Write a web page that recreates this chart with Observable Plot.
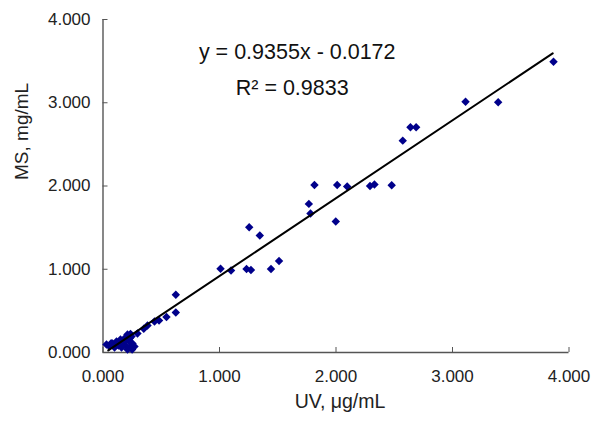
<!DOCTYPE html>
<html>
<head>
<meta charset="utf-8">
<script src="https://cdn.jsdelivr.net/npm/d3@7"></script>
<script src="https://cdn.jsdelivr.net/npm/@observablehq/plot@0.6"></script>
<style>
  body { margin: 0; background: #fff; }
</style>
</head>
<body>
<div id="chart"></div>
<script>
const uv = [
  3.867, 3.392, 3.112, 2.688, 2.639, 2.573, 2.478, 2.330, 2.292, 2.096,
  2.010, 1.998, 1.815, 1.781, 1.767, 1.511, 1.442, 1.346, 1.255, 1.270,
  1.232, 1.099, 1.009, 0.625, 0.625, 0.545, 0.481, 0.442, 0.382, 0.350,
  0.296, 0.236, 0.210, 0.270, 0.253, 0.245, 0.227, 0.219, 0.202, 0.193,
  0.176, 0.159, 0.150, 0.133, 0.116, 0.099, 0.082, 0.056, 0.030,
  0.070, 0.120, 0.170, 0.190, 0.230, 0.250, 0.210
];
const ms = [
  3.493, 3.007, 3.013, 2.705, 2.705, 2.545, 2.008, 2.019, 1.999, 1.993,
  2.013, 1.573, 2.013, 1.669, 1.785, 1.098, 1.002, 1.405, 1.504, 0.990,
  1.002, 0.984, 1.005, 0.694, 0.480, 0.426, 0.384, 0.372, 0.324, 0.285,
  0.228, 0.224, 0.216, 0.072, 0.108, 0.192, 0.060, 0.144, 0.072, 0.180,
  0.120, 0.060, 0.156, 0.084, 0.132, 0.060, 0.108, 0.072, 0.096,
  0.110, 0.100, 0.090, 0.140, 0.170, 0.035, 0.035
];
// Linear trendline from the chart's equation
const slope = 0.9355;
const intercept = -0.0172;
const trendX = [0.045, 3.86];
const equationText = "y = 0.9355x - 0.0172";
const r2Text = "R² = 0.9833";
const xTicks = [0, 1, 2, 3, 4];
const yTicks = [0, 1, 2, 3, 4];
const xLabel = "UV, μg/mL";
const yLabel = "MS, mg/mL";

const points = uv.map((x, i) => ({x, y: ms[i]}));
const trend = trendX.map(x => ({x, y: slope * x + intercept}));
const fmt = d3.format(".3f");
const axisColor = "#555";

const chart = Plot.plot({
  width: 608,
  height: 425,
  marginLeft: 102.5,
  marginRight: 39.5,
  marginTop: 19,
  marginBottom: 73,
  style: {fontFamily: "'Liberation Sans', Arial, sans-serif", background: "#fff", color: "#222"},
  x: {domain: [0, 4]},
  y: {domain: [0, 4]},
  marks: [
    Plot.ruleY([0], {x1: 0, x2: 4, stroke: axisColor, strokeWidth: 1.4}),
    Plot.ruleX([0], {y1: 0, y2: 4, stroke: axisColor, strokeWidth: 1.4}),
    Plot.axisX(xTicks, {tickSize: -5, tickPadding: 22, tickFormat: fmt, fontSize: 17, stroke: axisColor, label: null}),
    Plot.axisY(yTicks, {tickSize: -5, tickPadding: 17.5, tickFormat: fmt, fontSize: 17, stroke: axisColor, label: null}),
    Plot.text([xLabel], {frameAnchor: "bottom", dx: 4, dy: 55, fontSize: 19.5, fill: "#222"}),
    Plot.text([yLabel], {frameAnchor: "left", dx: -81, dy: -6, rotate: -90, fontSize: 19, fill: "#222"}),
    Plot.dot(points, {x: "x", y: "y", symbol: "diamond2", r: 3.8, fill: "#00008b", stroke: "none"}),
    Plot.line(trend, {x: "x", y: "y", stroke: "#000", strokeWidth: 2}),
    Plot.text([equationText], {x: 1.667, y: 3.605, fontSize: 21.5, fill: "#111"}),
    Plot.text([r2Text], {x: 1.624, y: 3.17, fontSize: 21.5, fill: "#111"})
  ]
});
document.getElementById("chart").appendChild(chart);
</script>
</body>
</html>
